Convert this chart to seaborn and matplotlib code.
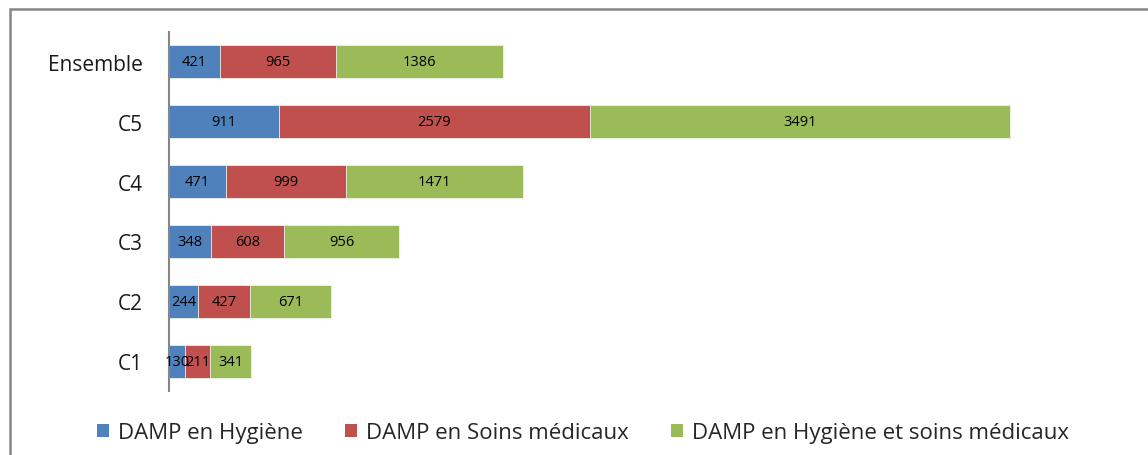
import numpy as np
import pandas as pd
import matplotlib.pyplot as plt
import seaborn as sns
from matplotlib.patches import Rectangle, Patch

categories = ["Ensemble", "C5", "C4", "C3", "C2", "C1"]
hygiene = [421, 911, 471, 348, 244, 130]
soins = [965, 2579, 999, 608, 427, 211]
hyg_soins = [1386, 3491, 1471, 956, 671, 341]
series_names = ["DAMP en Hygiène", "DAMP en Soins médicaux", "DAMP en Hygiène et soins médicaux"]
colors = ["#4F81BD", "#C0504D", "#9BBB59"]

sns.set_theme(style="white")
plt.rcParams['font.family'] = ['Open Sans', 'DejaVu Sans']

df = pd.DataFrame({"cat": categories, "h": hygiene, "s": soins, "hs": hyg_soins})
df["c1"] = df["h"]
df["c2"] = df["c1"] + df["s"]
df["c3"] = df["c2"] + df["hs"]

fig = plt.figure(figsize=(11.48, 4.56), dpi=100)
ax = fig.add_axes([169 / 1148, 1 - 392 / 456, (1133 - 169) / 1148, (392 - 33) / 456])

# layered bars: draw totals first, then smaller cumulative sums on top
for col, color in zip(["c3", "c2", "c1"], colors[::-1]):
    sns.barplot(data=df, x=col, y="cat", order=categories, color=color, width=0.55,
                saturation=1, orient="h", edgecolor="#eef3e6", linewidth=0.6, ax=ax)

# value labels centred in each segment
for i, row in df.iterrows():
    starts = [0, row["c1"], row["c2"]]
    vals = [row["h"], row["s"], row["hs"]]
    for st, v in zip(starts, vals):
        ax.text(st + v / 2, i, str(v), ha="center", va="center", fontsize=10.5, color="black")

ax.set_xlim(0, 8000)
ax.set_ylim(len(categories) - 0.5, -0.5)
ax.set_xlabel("")
ax.set_ylabel("")
ax.set_xticks([])
ax.tick_params(axis="y", length=0, labelsize=15, pad=19, colors="#1a1a1a")
for s in ["top", "right", "bottom"]:
    ax.spines[s].set_visible(False)
ax.spines["left"].set_color("#868686")
ax.spines["left"].set_linewidth(1.5)

# chart area border (extends past the image on right and bottom)
fig.patches.append(Rectangle((9.5 / 1148, -0.1), 1.2, 1 - 10 / 456 + 0.1, transform=fig.transFigure,
                             fill=False, edgecolor="#868686", linewidth=1.8))

handles = [Patch(facecolor=c, edgecolor="none") for c in colors]
fig.legend(handles, series_names, loc="center", bbox_to_anchor=(583 / 1148, 1 - 434 / 456),
           ncol=3, frameon=False, fontsize=16, handlelength=0.55, handleheight=0.55,
           handletextpad=0.4, columnspacing=1.9)

fig.savefig("out.png", dpi=100)
